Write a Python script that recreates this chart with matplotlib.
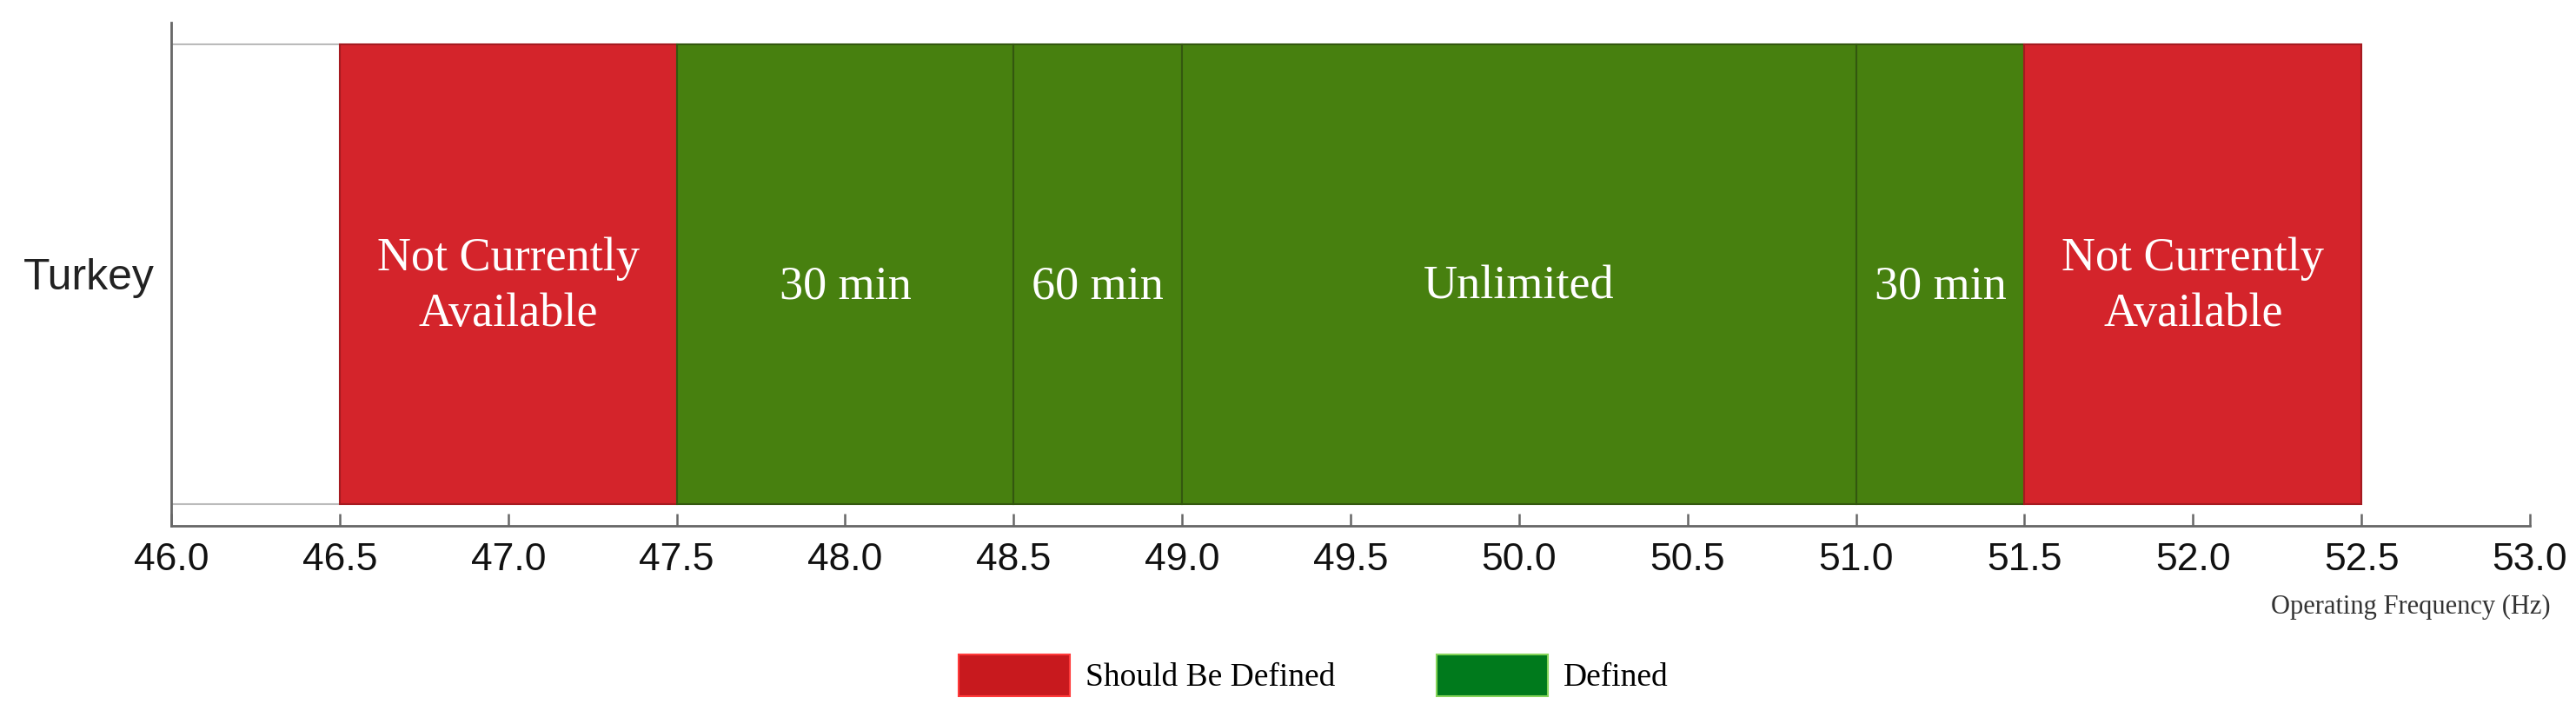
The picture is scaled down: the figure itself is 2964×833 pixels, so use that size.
import matplotlib
matplotlib.use("Agg")
import matplotlib.pyplot as plt
from matplotlib.patches import Patch

# Data
country = "Turkey"
seg_start = [46.0, 46.5, 47.5, 48.5, 49.0, 51.0, 51.5]
seg_end = [46.5, 47.5, 48.5, 49.0, 51.0, 51.5, 52.5]
seg_kind = ["none", "should", "defined", "defined", "defined", "defined", "should"]
seg_label = ["", "Not Currently\nAvailable", "30 min", "60 min", "Unlimited", "30 min",
             "Not Currently\nAvailable"]
xticks = [46.0, 46.5, 47.0, 47.5, 48.0, 48.5, 49.0, 49.5, 50.0, 50.5, 51.0, 51.5, 52.0, 52.5, 53.0]
legend_labels = ["Should Be Defined", "Defined"]

fill = {"none": "white", "should": "#D4242B", "defined": "#47800F"}
edge = {"none": "#BBBBBB", "should": "#A51A20", "defined": "#33570F"}

fig = plt.figure(figsize=(29.64, 8.33), dpi=100)
ax = fig.add_axes([0.0665, 0.2737, 0.9156, 0.6951])

bar_h = 0.9136
for s, e, k, lab in zip(seg_start, seg_end, seg_kind, seg_label):
    ax.barh(0, e - s, left=s, height=bar_h, color=fill[k], edgecolor=edge[k],
            linewidth=1.5, zorder=2)
    if lab:
        ax.text((s + e) / 2, -0.025, lab, ha="center", va="center", color="white",
                fontsize=39, family="Liberation Serif", linespacing=1.35, zorder=3)

ax.set_xlim(46.0, 53.0)
ax.set_ylim(-0.5, 0.5)
ax.set_xticks(xticks)
ax.set_xticklabels([f"{t:.1f}" for t in xticks], family="Liberation Sans", fontsize=32)
ax.set_yticks([0])
ax.set_yticklabels([country], family="Liberation Sans", fontsize=36)

for sp in ["top", "right"]:
    ax.spines[sp].set_visible(False)
for sp in ["left", "bottom"]:
    ax.spines[sp].set_color("#666666")
    ax.spines[sp].set_linewidth(2)

ax.tick_params(axis="x", direction="in", length=10, width=1.8, color="#666666", pad=14,
               labelcolor="#111111")
ax.tick_params(axis="y", direction="in", length=49, width=1.5, color="#444444", pad=14,
               labelcolor="#222222")

fig.text(0.990, 0.161, "Operating Frequency (Hz)", ha="right", va="center",
         family="Liberation Serif", fontsize=22, color="#333333")

handles = [Patch(facecolor="#C8191E", edgecolor="#FF3A3A", linewidth=1.5),
           Patch(facecolor="#007A1C", edgecolor="#86D45A", linewidth=1.5)]
fig.legend(handles, legend_labels, loc="center", bbox_to_anchor=(0.510, 0.067), ncol=2,
           frameon=False, prop={"family": "Liberation Serif", "size": 27},
           handlelength=3.4, handleheight=1.6, handletextpad=0.5, columnspacing=3.1)

fig.savefig("out.png", dpi=100, facecolor="white")
